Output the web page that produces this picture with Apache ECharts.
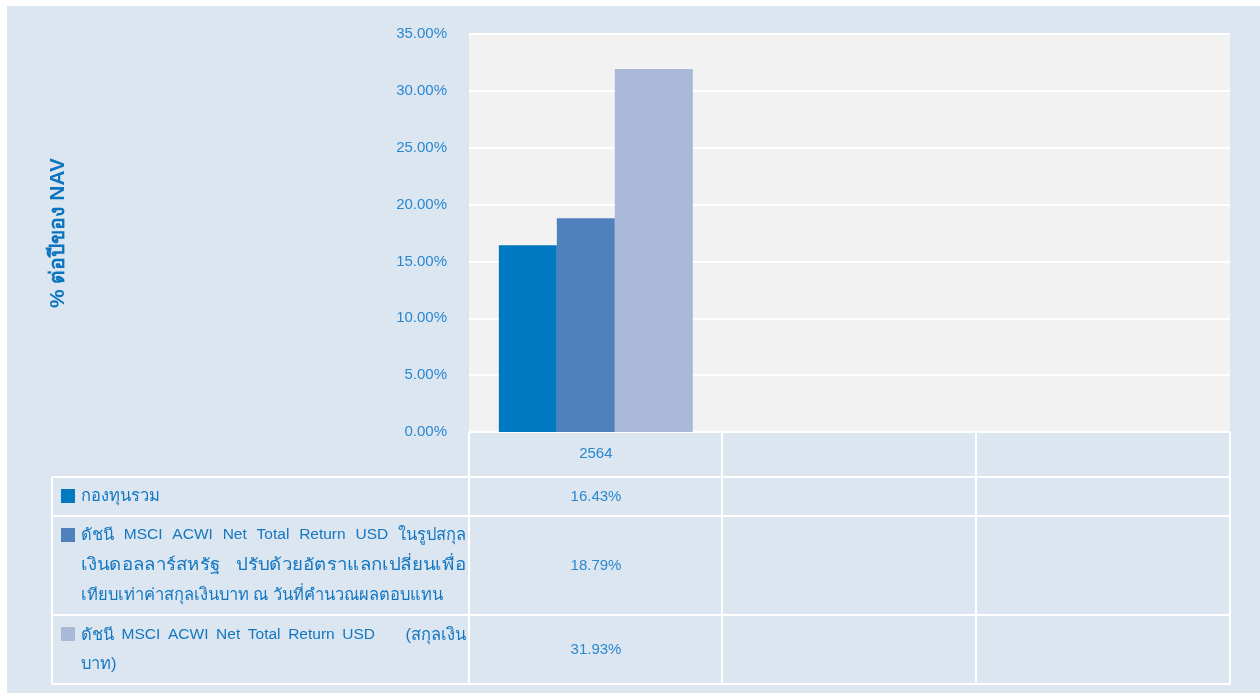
<!DOCTYPE html>
<html><head><meta charset="utf-8">
<script src="https://cdn.jsdelivr.net/npm/echarts@6/dist/echarts.min.js"></script>
<style>
html,body{margin:0;padding:0;background:#fff;}
#bg{position:absolute;left:7px;top:6px;width:1253px;height:687px;background:#dce6f1;}
#c{position:absolute;left:0;top:0;width:1260px;height:693px;}
</style></head>
<body><div id="bg"></div><div id="c"></div>
<script>
// ---- data ----
var categories = ['2564', '', ''];
var fundValues = [16.43, null, null];
var benchUsdThbValues = [18.79, null, null];
var benchThbValues = [31.93, null, null];
var seriesNames = ['กองทุนรวม', 'ดัชนี MSCI ACWI Net Total Return USD ในรูปสกุลเงินดอลลาร์สหรัฐ ปรับด้วยอัตราแลกเปลี่ยนเพื่อเทียบเท่าค่าสกุลเงินบาท ณ วันที่คำนวณผลตอบแทน', 'ดัชนี MSCI ACWI Net Total Return USD (สกุลเงินบาท)'];
// label lines as wrapped in the table
var labelLines = [
  ['กองทุนรวม'],
  ['ดัชนี MSCI ACWI Net Total Return USD ในรูปสกุล', 'เงินดอลลาร์สหรัฐ ปรับด้วยอัตราแลกเปลี่ยนเพื่อ', 'เทียบเท่าค่าสกุลเงินบาท ณ วันที่คำนวณผลตอบแทน'],
  ['ดัชนี MSCI ACWI Net Total Return USD    (สกุลเงิน', 'บาท)']
];
var yTicks = [0, 5, 10, 15, 20, 25, 30, 35];
var yAxisTitle = '% ต่อปีของ NAV';
var colors = ['#0079c1', '#4f81bd', '#a9b9d7'];

var chart = echarts.init(document.getElementById('c'));
var allSeries = [fundValues, benchUsdThbValues, benchThbValues];
var barWidths = [58, 58, 78];

var LAT_FONT = '15.5px Arial, sans-serif';
var THAI_FONT = '16.5px Arial, sans-serif';
var LBL_COLOR = '#1477c0';
var MAX_GAP = 16;
var cv = document.createElement('canvas').getContext('2d');
function isThai(s){ return /[\u0E00-\u0E7F]/.test(s); }
function fontOf(s){ return isThai(s) ? THAI_FONT : LAT_FONT; }
function w(s){ cv.font = fontOf(s); return cv.measureText(s).width; }

var graphics = [];
// table lines
var lineStyle = {stroke:'#ffffff', lineWidth:2};
[477, 516, 615, 684].forEach(function(y){
  graphics.push({type:'line', shape:{x1:52,y1:y,x2:1230,y2:y}, style:lineStyle, silent:true});
});
graphics.push({type:'line', shape:{x1:52,y1:477,x2:52,y2:684}, style:lineStyle, silent:true});
[469, 722, 976, 1230].forEach(function(x){
  graphics.push({type:'line', shape:{x1:x,y1:432,x2:x,y2:684}, style:lineStyle, silent:true});
});
// legend markers & labels
var markerY = [489, 528, 627];
var lineY = [[496], [535, 565, 595], [635, 664]];
var valueY = [497, 566, 650];
var textLeft = 81, textRight = 466;
labelLines.forEach(function(lines, i){
  graphics.push({type:'rect', shape:{x:61,y:markerY[i],width:14,height:14}, style:{fill:colors[i]}, silent:true});
  lines.forEach(function(line, j){
    var justify = (lines.length > 1 && j < lines.length - 1);
    var tokens = line.split(' ');
    cv.font = LAT_FONT;
    var sp = cv.measureText(' ').width;
    var thaiW = 0, latW = 0;
    tokens.forEach(function(t){ if (isThai(t)) thaiW += w(t); else latW += w(t); });
    var gaps = tokens.length - 1;
    var gap = sp, s = 1;
    var avail = textRight - textLeft;
    if (justify && gaps > 0) {
      gap = (avail - thaiW - latW) / gaps;
      if (gap > MAX_GAP && thaiW > 0) {
        gap = MAX_GAP;
        s = (avail - latW - gaps * gap) / thaiW;
      }
    }
    var x = textLeft;
    tokens.forEach(function(t){
      var tw = isThai(t) ? w(t) * s : w(t);
      if (t.length) graphics.push({type:'text', x:x, y:lineY[i][j], scaleX: isThai(t) ? s : 1, style:{text:t, font:fontOf(t), fill:LBL_COLOR, textVerticalAlign:'middle', verticalAlign:'middle'}, silent:true});
      x += tw + gap;
    });
  });
  // value in first column
  var v = allSeries[i][0];
  graphics.push({type:'text', x:596, y:valueY[i], style:{text: v.toFixed(2) + '%', font:'15px Arial, sans-serif', fill:'#2a88d0', textAlign:'center', align:'center', textVerticalAlign:'middle', verticalAlign:'middle'}, silent:true});
});

chart.setOption({
  backgroundColor: 'transparent',
  animation: false,
  grid: {left:469, right:30, top:34, bottom:261, show:true, backgroundColor:'#f2f2f2', borderWidth:0},
  xAxis: {
    type:'category', data:categories,
    axisLine:{show:false}, axisTick:{show:false},
    axisLabel:{color:'#2a88d0', fontSize:15, fontFamily:'Arial', margin:14},
    splitLine:{show:false}
  },
  yAxis: {
    type:'value', min:0, max:35, interval:5,
    name: yAxisTitle, nameLocation:'middle', nameRotate:90, nameGap:400,
    nameTextStyle:{color:'#0b74bf', fontSize:21, fontWeight:'bold', fontFamily:'Arial'},
    axisLine:{show:false}, axisTick:{show:false},
    axisLabel:{color:'#2a88d0', fontSize:15, fontFamily:'Arial', margin:22, formatter:function(v){return v.toFixed(2)+'%';}},
    splitLine:{lineStyle:{color:'#ffffff', width:2}}
  },
  series: allSeries.map(function(d, i){
    return {type:'bar', name:seriesNames[i], data:d, barWidth:barWidths[i], barGap:'0%', itemStyle:{color:colors[i]}, silent:true};
  }),
  graphic: graphics
});
</script>
</body></html>
